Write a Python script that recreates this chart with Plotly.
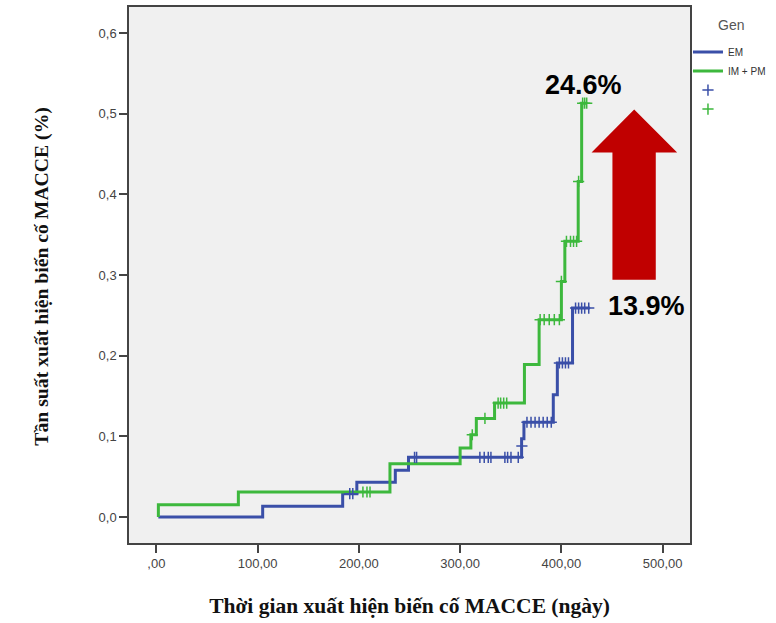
import plotly.graph_objects as go

# ---- data (cumulative incidence of MACCE, step functions) ----
em_t = [2, 2, 105, 184, 198, 236, 249, 360.7, 363, 392, 396, 411, 428]
em_y = [0, 0, 0.0135, 0.029, 0.043, 0.058, 0.074, 0.097, 0.1175, 0.1516, 0.191, 0.259, 0.259]

impm_t = [2, 2, 81, 230.7, 300, 310.6, 316, 334, 363.5, 378, 400, 403.4, 416.6, 420, 425]
impm_y = [0, 0.0152, 0.031, 0.066, 0.0855, 0.102, 0.1222, 0.1413, 0.189, 0.2446, 0.292, 0.3417, 0.416, 0.513, 0.513]

em_cens_t = [191, 194, 255, 257, 319.5, 323.8, 327.8, 330.4, 344.2, 346.9, 350.2, 357.4, 361,
             366, 370, 374, 378, 382, 386, 390, 398, 401, 404, 407, 414, 417, 420, 423, 427]
em_cens_y = [0.029, 0.029, 0.074, 0.074, 0.074, 0.074, 0.074, 0.074, 0.074, 0.074, 0.074, 0.074, 0.088,
             0.1175, 0.1175, 0.1175, 0.1175, 0.1175, 0.1175, 0.1175, 0.191, 0.191, 0.191, 0.191,
             0.259, 0.259, 0.259, 0.259, 0.259]

impm_cens_t = [204, 208, 211, 312, 324.5, 337.5, 340, 343, 346, 379, 383, 388, 393, 398,
               400, 405, 409, 412, 415, 417, 421, 423, 425]
impm_cens_y = [0.031, 0.031, 0.031, 0.102, 0.1222, 0.1413, 0.1413, 0.1413, 0.1413, 0.2446, 0.2446,
               0.2446, 0.2446, 0.2446, 0.292, 0.3417, 0.3417, 0.3417, 0.3417, 0.416, 0.513, 0.513, 0.513]

x_ticks = [0, 100, 200, 300, 400, 500]
x_ticktext = [",00", "100,00", "200,00", "300,00", "400,00", "500,00"]
y_ticks = [0, 0.1, 0.2, 0.3, 0.4, 0.5, 0.6]
y_ticktext = ["0,0", "0,1", "0,2", "0,3", "0,4", "0,5", "0,6"]

series_names = ["EM", "IM + PM"]
legend_title = "Gen"
x_title = "Thời gian xuất hiện biến cố MACCE (ngày)"
y_title = "Tần suất xuất hiện biến cố MACCE (%)"
label_hi = "24.6%"
label_lo = "13.9%"

BLUE = "#3A4FA8"
GREEN = "#3DB83D"

fig = go.Figure()
fig.add_trace(go.Scatter(x=em_t, y=em_y, mode="lines", line_shape="hv",
                         line=dict(color=BLUE, width=3), name=series_names[0]))
fig.add_trace(go.Scatter(x=impm_t, y=impm_y, mode="lines", line_shape="hv",
                         line=dict(color=GREEN, width=3), name=series_names[1]))
fig.add_trace(go.Scatter(x=em_cens_t, y=em_cens_y, mode="markers", name=" ",
                         marker=dict(symbol="cross-thin", size=8, line=dict(color=BLUE, width=1.5))))
fig.add_trace(go.Scatter(x=impm_cens_t, y=impm_cens_y, mode="markers", name=" ",
                         marker=dict(symbol="cross-thin", size=8, line=dict(color=GREEN, width=1.5))))

# red arrow (decorative), in data coordinates
ax_l, ax_r, hd_l, hd_r, tip_x = 450.4, 493.2, 429.8, 514.3, 471.9
y_bot, y_head, y_tip = 0.294, 0.452, 0.505
arrow_path = (f"M {ax_l},{y_bot} L {ax_l},{y_head} L {hd_l},{y_head} L {tip_x},{y_tip} "
              f"L {hd_r},{y_head} L {ax_r},{y_head} L {ax_r},{y_bot} Z")
fig.add_shape(type="path", path=arrow_path, xref="x", yref="y",
              fillcolor="#C00000", line=dict(width=0))

fig.add_annotation(x=422, y=0.535, text=label_hi, showarrow=False,
                   font=dict(family="Liberation Sans", size=27, color="#000000", weight="bold"))
fig.add_annotation(x=484, y=0.262, text=label_lo, showarrow=False,
                   font=dict(family="Liberation Sans", size=27, color="#000000", weight="bold"))

# legend title placed like the SPSS legend header
fig.add_annotation(x=1.073, y=0.967, xref="paper", yref="paper", text=legend_title,
                   showarrow=False, xanchor="center", yanchor="middle",
                   font=dict(family="Liberation Sans", size=14, color="#555555"))

# y-axis title
fig.add_annotation(x=-0.155, y=0.497, xref="paper", yref="paper", text=y_title,
                   showarrow=False, textangle=-90, xanchor="center", yanchor="middle",
                   font=dict(family="Liberation Serif", size=19.7, color="#111111", weight="bold"))

axis_common = dict(showgrid=False, zeroline=False, showline=True, mirror=True,
                   linecolor="#444444", linewidth=1.5, ticks="outside", ticklen=8,
                   tickcolor="#444444", tickwidth=1.5,
                   tickfont=dict(family="Liberation Sans", size=13, color="#444444"))

fig.update_xaxes(range=[-27, 527], tickvals=x_ticks, ticktext=x_ticktext,
                 title=dict(text=x_title, standoff=28,
                            font=dict(family="Liberation Serif", size=21.5, color="#111111", weight="bold")),
                 **axis_common)
fig.update_yaxes(range=[-0.0322, 0.6322], tickvals=y_ticks, ticktext=y_ticktext,
                 **axis_common)

fig.update_layout(
    width=776, height=623,
    margin=dict(l=129, r=86, t=7, b=80, autoexpand=False),
    paper_bgcolor="white", plot_bgcolor="#F0F0F0",
    showlegend=True,
    legend=dict(x=0.9964, y=0.943, xanchor="left", yanchor="top",
                font=dict(family="Liberation Sans", size=10, color="#333333"),
                bgcolor="rgba(0,0,0,0)", tracegroupgap=0, itemwidth=30),
)

fig.write_html("out.html")
